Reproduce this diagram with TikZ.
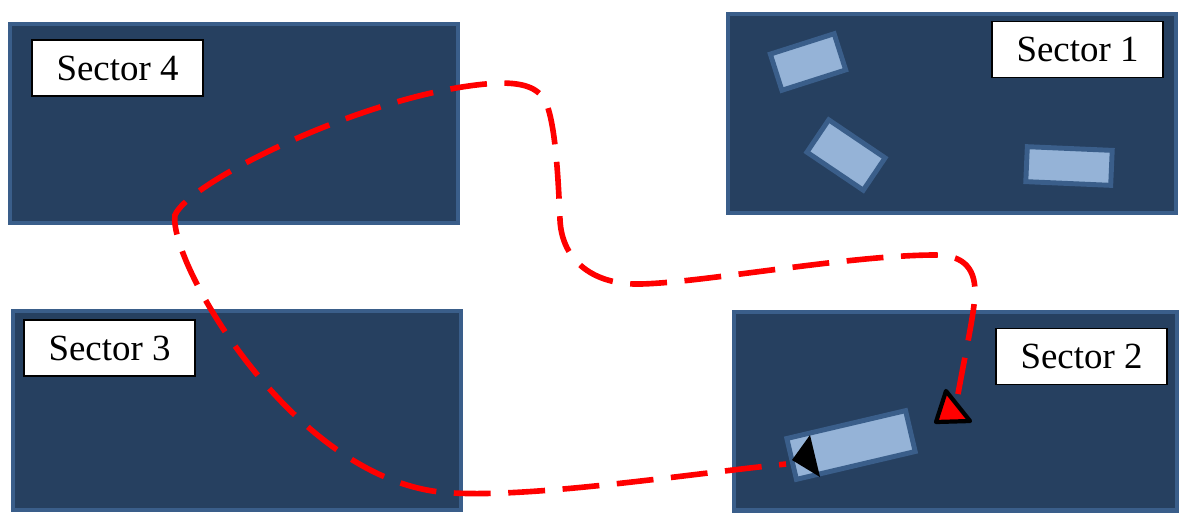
\documentclass[tikz,border=0pt]{standalone}
\usepackage{fontspec}
\setmainfont{Liberation Serif}
\usetikzlibrary{positioning, calc}
\definecolor{secFill}{RGB}{38,64,96}
\definecolor{secEdge}{RGB}{58,94,138}
\definecolor{partFill}{RGB}{149,179,215}
\colorlet{pathRed}{red}
\tikzset{
  sector/.style={draw=secEdge, fill=secFill, line width=2.3pt, inner sep=0pt,
                 minimum width=8.96cm, minimum height=3.98cm},
  seclabel/.style={draw=black, fill=white, line width=1pt, inner sep=0pt,
                   minimum width=3.42cm, minimum height=1.12cm,
                   font=\fontsize{21}{25}\selectfont},
  part/.style={draw=secEdge, fill=partFill, line width=2.8pt, inner sep=0pt},
  route/.style={pathRed, line width=3.2pt, dash pattern=on 21pt off 10pt}
}
\begin{document}
\begin{tikzpicture}[x=0.02cm, y=-0.02cm]
  \useasboundingbox (0,0) rectangle (1190,512);
  % Sektoren
  \node[sector] (s4) at (234,123.5) {};
  \node[sector] (s1) at (952,113.5) {};
  \node[sector] (s3) at (237,410.5) {};
  \node[sector, minimum width=8.86cm] (s2) at (955.5,411) {};
  % Beschriftungen
  \node[seclabel] (l4) at (117.5,68) {Sector 4};
  \node[seclabel] (l1) at (1077.5,49.5) {Sector 1};
  \node[seclabel] (l3) at (109.5,348) {Sector 3};
  \node[seclabel] (l2) at (1081.5,356.5) {Sector 2};
  % Teile in Sektor 1 und 2
  \node[part, minimum width=1.34cm, minimum height=0.76cm, rotate=17.7] (p1) at (808,62) {};
  \node[part, minimum width=1.36cm, minimum height=0.78cm, rotate=-34] (p2) at (846,155) {};
  \node[part, minimum width=1.7cm, minimum height=0.7cm, rotate=-2.5] (p3) at (1069,166) {};
  \node[part, minimum width=2.44cm, minimum height=0.84cm, rotate=13.2] (p4) at (851,445) {};
  % Route
  \coordinate (start) at (958,394);
  \coordinate (goal) at (786,464);
  \draw[route] (start) .. controls (965,355) and (975,310) .. (975,292)
    .. controls (975,265) and (960,255) .. (935,255)
    .. controls (850,255) and (700,283) .. (640,284)
    .. controls (595,285) and (562,262) .. (560,220)
    .. controls (558,170) and (555,130) .. (548,108)
    .. controls (542,88) and (525,83) .. (500,83)
    .. controls (380,88) and (190,180) .. (175,215)
    .. controls (168,260) and (290,475) .. (440,492)
    .. controls (520,500) and (680,475) .. (goal);
  % Pfeilspitzen
  \filldraw[fill=pathRed, draw=black, line width=2.4pt, line join=round]
    (start) ++(-12,-3) -- ++(-10,31) -- ++(34,-1) -- cycle;
  \fill[black, line join=round] ($(goal)+(6,-4)$) -- (810,435) -- (820,477) -- cycle;
\end{tikzpicture}
\end{document}
